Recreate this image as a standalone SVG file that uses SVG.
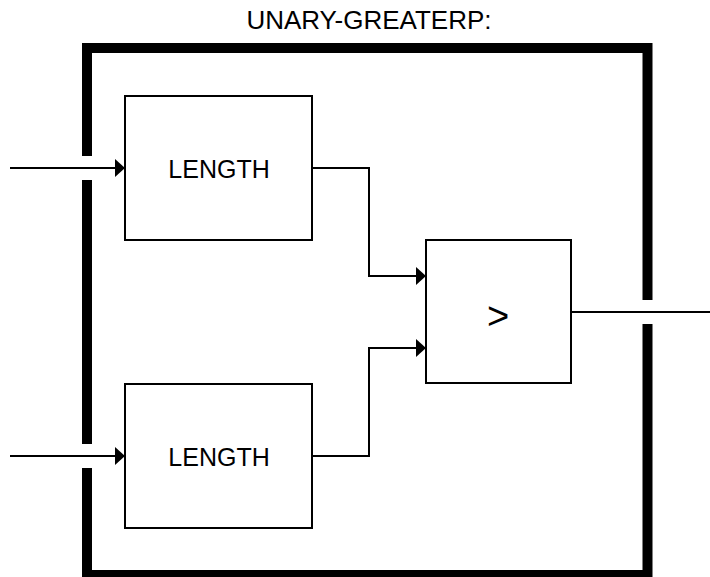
<svg xmlns="http://www.w3.org/2000/svg" width="710" height="577" viewBox="0 0 710 577">
<style>
.box{fill:#fff;stroke:#000;stroke-width:2}
.wire{fill:none;stroke:#000;stroke-width:2}
.lbl{font-family:"Liberation Sans",Arial,sans-serif;font-size:25px;fill:#000;text-anchor:middle}
</style>
<defs>
<marker id="ah" markerUnits="userSpaceOnUse" markerWidth="11" markerHeight="18" refX="10" refY="9" orient="auto">
<path d="M0,0 L10,9 L0,18 Z" fill="#000"/>
</marker>
</defs>
<rect width="710" height="577" fill="#fff"/>
<text class="lbl" x="369" y="29" style="font-size:26px">UNARY-GREATERP:</text>
<g id="frame" fill="none" stroke="#000" stroke-width="10">
<path d="M87,156 V48 H647.5 V300"/>
<path d="M647.5,324 V575 H87 V468"/>
<path d="M87,180 V444"/>
</g>
<g id="length1">
<rect class="box" x="125" y="96" width="187" height="144"/>
<text class="lbl" x="219" y="178">LENGTH</text>
</g>
<g id="length2">
<rect class="box" x="125" y="384" width="187" height="144"/>
<text class="lbl" x="219" y="466">LENGTH</text>
</g>
<g id="greater">
<rect class="box" x="426" y="240" width="145" height="143"/>
<text class="lbl" x="498" y="329" style="font-size:38px">&gt;</text>
</g>
<g id="connectors">
<path class="wire" d="M10,168 H125" marker-end="url(#ah)"/>
<path class="wire" d="M10,456 H125" marker-end="url(#ah)"/>
<path class="wire" d="M312,168 H369 V276 H426" marker-end="url(#ah)"/>
<path class="wire" d="M312,456 H369 V348 H426" marker-end="url(#ah)"/>
<path class="wire" d="M571,312 H710"/>
</g>
</svg>
